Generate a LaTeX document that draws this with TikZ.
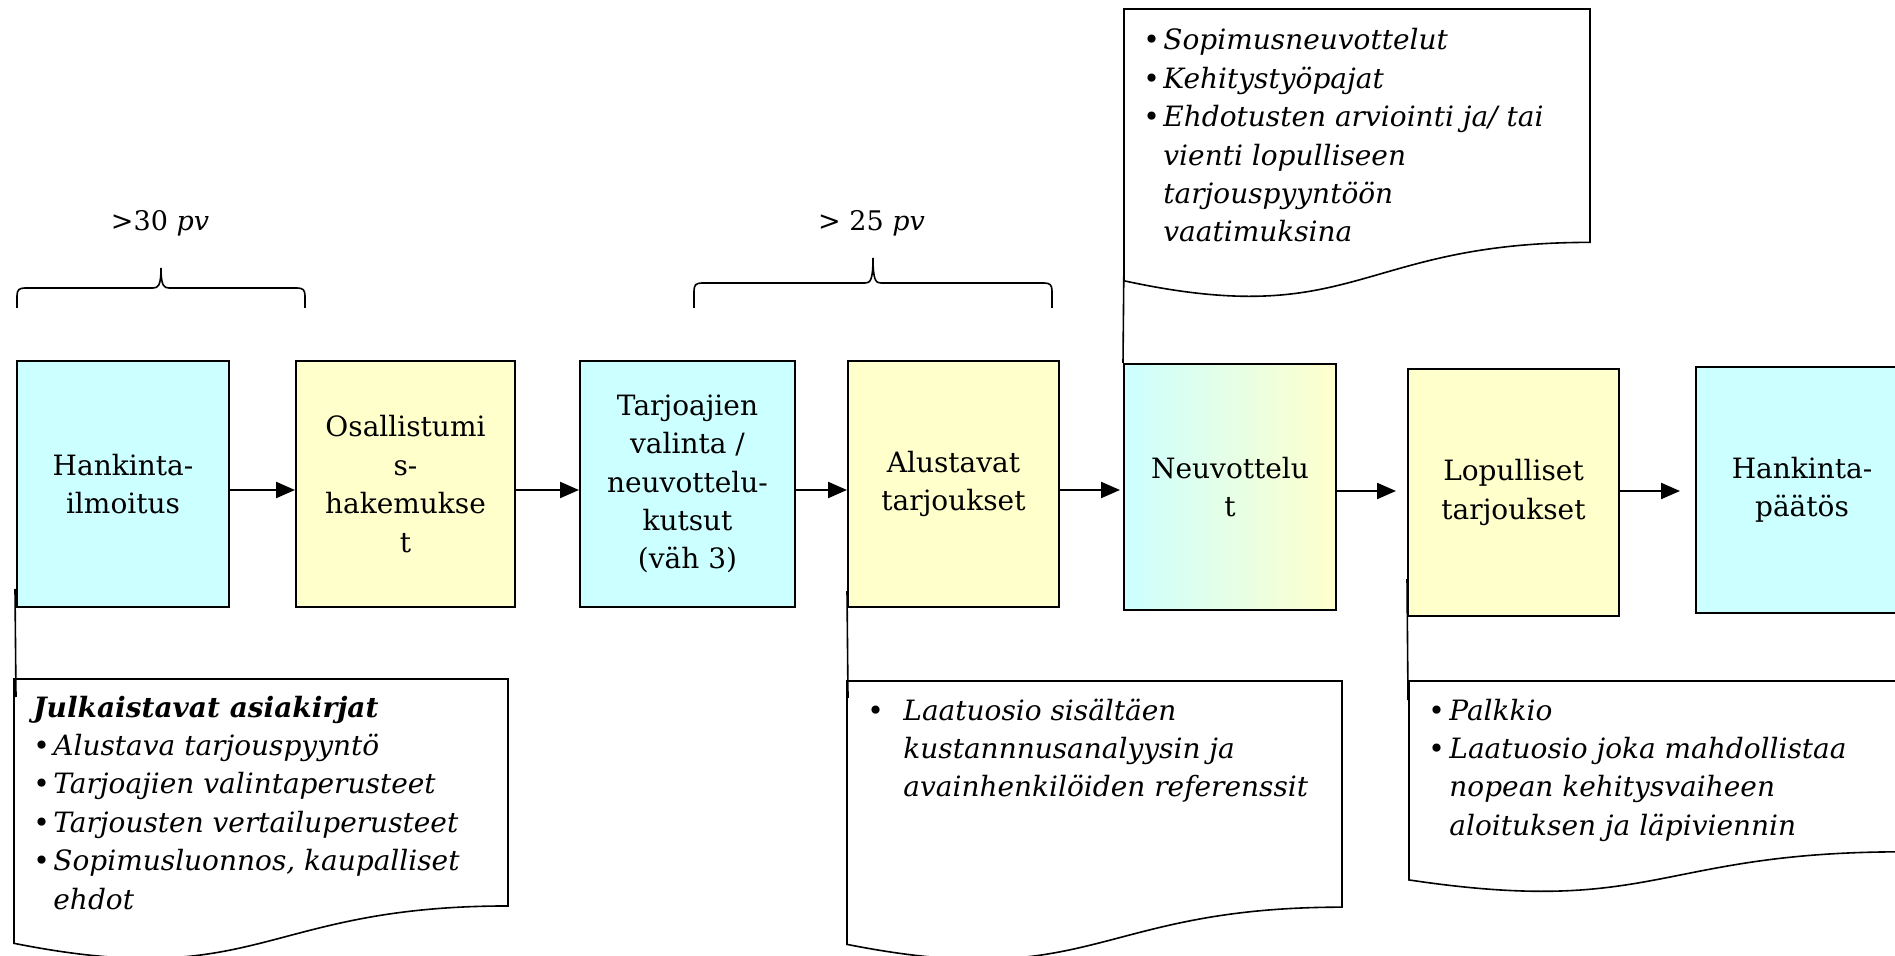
\documentclass[tikz,border=0pt]{standalone}
\usepackage{fontspec}
\setmainfont{DejaVu Serif}
\usetikzlibrary{arrows.meta,calc}

\definecolor{boxcyan}{HTML}{CCFFFF}
\definecolor{boxyellow}{HTML}{FFFFCC}

\tikzset{
  stage/.style={draw=black, line width=1pt, minimum height=123pt, inner sep=0pt,
    align=center, font=\fontsize{14}{19.2}\selectfont},
  cyanstage/.style={stage, fill=boxcyan},
  yellowstage/.style={stage, fill=boxyellow},
  flow/.style={line width=1.1pt, -{Triangle[length=9.5pt,width=8pt]}},
  pointer/.style={line width=0.8pt},
  docframe/.style={draw=black, line width=0.8pt, fill=white},
  notes/.style={anchor=base west, inner sep=0pt, font=\fontsize{14}{19.2}\selectfont},
  span/.style={line width=0.8pt},
  spanlabel/.style={anchor=base, inner sep=0pt, font=\fontsize{13.5}{16}\selectfont},
}

% bulleted paragraph with a hanging indent; lines inside are broken with \\
\newcommand\bitem[2]{\par\hangindent=#1\hangafter=1\noindent
  \makebox[#1][l]{•}\textit{#2}}
\newcommand\notesetup{\setlength\parskip{0pt}\setlength\parindent{0pt}}

% horizontal curly brace: left x, right x, foot y, bar y, tip y
\newcommand\hbrace[5]{%
  \pgfmathsetmacro\bracemid{(#1+#2)/2}
  \draw[span] (#1,#3) -- (#1,{#4+8})
    .. controls (#1,{#4+2}) and ({#1+2},#4) .. ({#1+8},#4)
    -- ({\bracemid-8},#4)
    .. controls ({\bracemid-3},#4) and (\bracemid,{#4-2}) .. (\bracemid,#5)
    .. controls (\bracemid,{#4-2}) and ({\bracemid+3},#4) .. ({\bracemid+8},#4)
    -- ({#2-8},#4)
    .. controls ({#2-2},#4) and (#2,{#4+2}) .. (#2,{#4+8}) -- (#2,#3);
}

% document-shaped note frame: x0, y0, width, height
\newcommand\docframe[4]{%
  \draw[docframe] (#1,#2) -- ({#1+#3},#2) -- ({#1+#3},{#2+0.802*#4})
    .. controls ({#1+0.5*#3},{#2+0.802*#4}) and ({#1+0.5*#3},{#2+1.1075*#4})
    .. (#1,{#2+0.934*#4}) -- cycle;
}

\begin{document}
\begin{tikzpicture}[x=0.5pt,y=-0.5pt]
\useasboundingbox (0,0) rectangle (1895,956);
\clip (0,0) rectangle (1895,956);

% duration braces and their labels
\hbrace{17}{305}{308}{288}{268}
\hbrace{694}{1052}{308}{283}{258}
\node[spanlabel] (d1) at (160,231) {>30 \textit{pv}};
\node[spanlabel] (d2) at (871.5,231) {> 25 \textit{pv}};

% process stages
\node[cyanstage, minimum width=106pt] (b1) at (123,484) {Hankinta-\\ilmoitus};
\node[yellowstage, minimum width=109.5pt] (b2) at (405.5,484) {Osallistumi\\s-\\hakemukse\\t};
\node[cyanstage, minimum width=107.5pt] (b3) at (687.5,484) {Tarjoajien\\valinta /\\neuvottelu-\\kutsut\\(väh 3)};
\node[yellowstage, minimum width=105.5pt] (b4) at (953.5,484) {Alustavat\\tarjoukset};
\node[stage, left color=boxcyan, right color=boxyellow, minimum width=106pt] (b5) at (1230,487) {Neuvottelu\\t};
\node[yellowstage, minimum width=105.5pt, minimum height=123.5pt] (b6) at (1513.5,492.5) {Lopulliset\\tarjoukset};
\node[cyanstage, minimum width=106pt] (b7) at (1802,490) {Hankinta-\\päätös};

% flow arrows
\coordinate (ya) at (0,490);
\coordinate (yb) at (0,491);
\draw[flow] (b1.east |- ya) -- (b2.west |- ya);
\draw[flow] (b2.east |- ya) -- (b3.west |- ya);
\draw[flow] (b3.east |- ya) -- (b4.west |- ya);
\draw[flow, shorten >=1.5pt] (b4.east |- ya) -- (b5.west |- ya);
\draw[flow, shorten >=5.5pt] (b5.east |- yb) -- (b6.west |- yb);
\draw[flow, shorten >=7.5pt] (b6.east |- yb) -- (b7.west |- yb);

% note frames
\docframe{14}{679}{494}{283}
\docframe{1124}{9}{466}{291}
\docframe{847}{681}{495}{282}
\docframe{1409}{681}{494}{213}

% note texts
\node[notes] (n1) at (33,717) {\parbox[t]{300pt}{\notesetup
  \textbf{\textit{Julkaistavat asiakirjat}}
  \bitem{10pt}{Alustava tarjouspyyntö}
  \bitem{10pt}{Tarjoajien valintaperusteet}
  \bitem{10pt}{Tarjousten vertailuperusteet}
  \bitem{10pt}{Sopimusluonnos, kaupalliset\\ehdot}}};
\node[notes] (n2) at (1143,50) {\parbox[t]{300pt}{\notesetup
  \bitem{10pt}{Sopimusneuvottelut}
  \bitem{10pt}{Kehitystyöpajat}
  \bitem{10pt}{Ehdotusten arviointi ja/ tai\\vienti lopulliseen\\tarjouspyyntöön\\vaatimuksina}}};
\node[notes] (n3) at (867,720) {\parbox[t]{300pt}{\notesetup
  \bitem{18pt}{Laatuosio sisältäen\\kustannnusanalyysin ja\\avainhenkilöiden referenssit}}};
\node[notes] (n4) at (1428,720) {\parbox[t]{300pt}{\notesetup
  \bitem{10.5pt}{Palkkio}
  \bitem{10.5pt}{Laatuosio joka mahdollistaa\\nopean kehitysvaiheen\\aloituksen ja läpiviennin}}};

% note pointers
\coordinate (p1) at (16,697);
\coordinate (p2) at (1124,253);
\coordinate (p3) at (848,698);
\coordinate (p4) at (1408,700);
\draw[pointer] ([xshift=-0.5pt,yshift=9.5pt]b1.south west) -- (p1);
\draw[pointer] (b5.north west) -- (p2);
\draw[pointer] ([yshift=8.5pt]b4.south west) -- (p3);
\draw[pointer] ([yshift=19pt]b6.south west) -- (p4);
\end{tikzpicture}
\end{document}
